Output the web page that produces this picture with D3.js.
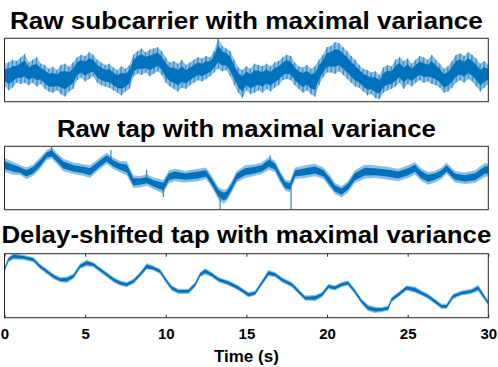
<!DOCTYPE html>
<html>
<head>
<meta charset="utf-8">
<script src="https://cdn.jsdelivr.net/npm/d3@7"></script>
<style>
    html, body { margin: 0; padding: 0; background: #ffffff; }
    svg { display: block; }
    text { font-family: "Liberation Sans", Arial, Helvetica, sans-serif; fill: #000000; }
</style>
</head>
<body>
<div id="chart"></div>
<script>
// ---- DATA (signal values in % of the box height, 0 = bottom, 100 = top) ----
const panelTitles = [
    "Raw subcarrier with maximal variance",
    "Raw tap with maximal variance",
    "Delay-shifted tap with maximal variance"
];
const xTicks = [0, 5, 10, 15, 20, 25, 30];
const xTickLabels = ["0", "5", "10", "15", "20", "25", "30"];
const xTitle = "Time (s)";

// panel 1: upper / lower edge of the noise, one pair every 0.25 s
const subcarrierStep = 0.25;
const subcarrierHigh = [
    60, 62, 66, 64, 70, 75, 62, 66, 70, 60, 58, 52, 55, 50, 58, 60, 55, 62, 70, 74,
    72, 78, 74, 66, 62, 58, 60, 54, 50, 56, 52, 58, 74, 80, 84, 78, 82, 84, 86, 80,
    70, 62, 64, 60, 66, 58, 62, 66, 70, 68, 72, 70, 80, 100, 88, 84, 80, 66, 54, 50,
    56, 52, 60, 58, 56, 60, 56, 62, 64, 70, 74, 72, 62, 56, 54, 58, 52, 56, 66, 74,
    86, 88, 94, 92, 86, 80, 72, 66, 58, 52, 50, 46, 48, 42, 54, 58, 56, 66, 70, 64,
    68, 60, 66, 72, 70, 66, 74, 66, 60, 52, 56, 64, 74, 76, 72, 78, 74, 68, 60, 64,
    58
];
const subcarrierLow = [
    25, 18, 22, 30, 28, 30, 26, 30, 24, 28, 20, 16, 14, 18, 12, 8, 16, 20, 34, 38,
    32, 36, 40, 30, 26, 24, 22, 18, 14, 10, 16, 20, 40, 44, 42, 46, 40, 44, 48, 42,
    30, 24, 20, 16, 22, 20, 26, 30, 34, 32, 36, 40, 46, 52, 48, 50, 40, 26, 14, 6,
    18, 12, 14, 18, 14, 20, 16, 22, 26, 34, 36, 34, 26, 20, 14, 18, 12, 8, 26, 38,
    46, 46, 44, 48, 42, 36, 30, 24, 22, 16, 10, 12, 6, 4, 14, 18, 20, 24, 30, 20,
    28, 24, 30, 34, 30, 32, 28, 26, 22, 14, 16, 22, 30, 34, 30, 36, 32, 24, 16, 22,
    28
];

// panel 2: centre of the trace, half width of the noise band, and the lone spikes
const rawTapTime = [
    0, 0.55, 0.96, 1.37, 1.79, 2.2, 2.62, 2.93, 3.24, 3.65,
    4.27, 4.89, 5.3, 5.92, 6.34, 6.75, 7.16, 7.58, 7.99, 8.4,
    8.82, 9.23, 9.85, 10.2, 10.6, 11.2, 12.0, 12.5, 12.85, 13.27,
    13.6, 13.78, 14.09, 14.4, 14.92, 15.54, 15.95, 16.4, 16.78, 17.09,
    17.4, 17.7, 18.02, 18.64, 19.26, 19.78, 20.19, 20.48, 20.9, 21.3,
    21.72, 22.34, 22.97, 23.79, 24.41, 25.03, 25.45, 25.86, 26.27, 26.69,
    27.1, 27.41, 27.93, 28.55, 29.17, 29.79, 30
];
const rawTapMid = [
    70.5, 65.3, 62.6, 57.4, 62.6, 73.2, 86.3, 89, 81, 70.5,
    65.3, 62.6, 60, 73.2, 81, 73.2, 68, 65.3, 44.2, 44.2,
    46.8, 41.6, 36.3, 52.1, 54.7, 52.1, 54.7, 57.4, 44.2, 25.8,
    20.5, 23.2, 36.3, 52.1, 60, 62.6, 65.3, 73.2, 68, 52.1,
    39, 36.3, 57.4, 60, 62.6, 57.4, 44.2, 33.7, 28.4, 36.3,
    52.1, 60, 60, 57.4, 54.7, 60, 65.3, 54.7, 49.5, 52.1,
    57.4, 65.3, 52.1, 49.5, 52.1, 62.6, 62.6
];
const rawTapSpread = [
    11, 10, 8, 9, 9, 9, 8, 9, 9, 10,
    9, 9, 10, 9, 9, 9, 9, 11, 10, 9,
    9, 9, 11, 10, 10, 9, 10, 9, 9, 10,
    11, 10, 9, 9, 10, 9, 9, 10, 9, 9,
    9, 9, 9, 10, 10, 9, 10, 9, 9, 9,
    10, 11, 10, 10, 10, 10, 10, 10, 10, 9,
    9, 9, 9, 9, 10, 11, 10
];
const rawTapSpikeTime = [2.93, 6.6, 8.82, 9.85, 13.37, 16.47, 17.77];
const rawTapSpikeFrom = [89, 78, 47, 36, 18, 72, 35];
const rawTapSpikeTo = [99.5, 94, 63, 20, 0.5, 86, 0];

// panel 3: centre of the trace and half width of the noise band
const shiftedTapTime = [
    0, 0.24, 0.55, 1.17, 1.79, 2.2, 2.62, 3.03, 3.44, 3.86,
    4.27, 4.68, 5.1, 5.51, 5.92, 6.34, 6.75, 7.16, 7.58, 7.99,
    8.4, 8.82, 9.23, 9.64, 10.06, 10.37, 10.78, 11.4, 11.82, 12.13,
    12.44, 12.85, 13.27, 13.89, 14.51, 15.13, 15.54, 15.95, 16.37, 16.78,
    17.19, 17.81, 18.23, 18.64, 19.26, 19.68, 20.09, 20.48, 20.9, 21.3,
    21.72, 22.14, 22.55, 22.97, 23.38, 23.79, 24.0, 24.41, 24.93, 25.45,
    25.86, 26.27, 26.69, 27.1, 27.41, 27.82, 28.34, 28.96, 29.37, 29.79,
    30
];
const shiftedTapMid = [
    75, 90.6, 95.8, 94.3, 90.6, 80.2, 72.4, 64.6, 59.4, 59.4,
    64.6, 80.2, 85.4, 82.8, 75, 67.2, 59.4, 54.2, 51.6, 56.8,
    67.2, 80.2, 77.6, 72.4, 56.8, 46.4, 41.1, 41.1, 51.6, 67.2,
    72.4, 67.2, 59.4, 54.2, 46.4, 35.9, 38.5, 54.2, 69.8, 67.2,
    59.4, 51.6, 41.1, 30.7, 30.7, 35.9, 49, 46.4, 51.6, 54.2,
    41.1, 25.5, 15.1, 12.5, 12.5, 15.1, 28.1, 35.9, 46.4, 43.8,
    38.5, 33.3, 25.5, 17.7, 17.7, 33.3, 38.5, 41.1, 46.4, 30.7,
    22.9
];
const shiftedTapSpread = [
    4, 4, 5, 4, 4, 4, 4, 4, 4, 5,
    4, 4, 5, 4, 4, 4, 4, 4, 4, 4,
    4, 5, 4, 4, 4, 4, 4, 4, 4, 4,
    5, 4, 4, 4, 4, 4, 4, 4, 5, 4,
    4, 4, 4, 4, 5, 4, 4, 4, 4, 4,
    4, 4, 5, 5, 4, 4, 4, 4, 4, 5,
    4, 4, 4, 4, 4, 4, 4, 4, 5, 4,
    4
];


// ---- LAYOUT ----
const width = 498;
const height = 367;
const lineColor = "#0072BD";
const axisColor = "#262626";
const panels = [
    { top: 38.3, bottom: 101.7, titleY: 29.3, titleWidth: 473 },
    { top: 146.3, bottom: 209.7, titleY: 137, titleWidth: 379 },
    { top: 253.7, bottom: 317.7, titleY: 243, titleWidth: 490 }
];

const svg = d3.select("#chart")
    .append("svg")
    .attr("width", width)
    .attr("height", height);

const xScale = d3.scaleLinear()
    .domain([0, 30])
    .range([4.5, 488.3]);

// one y scale per panel, each box is 0..100
const yScales = panels.map(p => d3.scaleLinear().domain([0, 100]).range([p.bottom, p.top]));


// SET UP EACH PANEL (clip, title)
const groups = panels.map((p, i) => {
    svg.append("clipPath")
        .attr("id", `clip${i}`)
        .append("rect")
        .attr("x", xScale(0))
        .attr("y", p.top)
        .attr("width", xScale(30) - xScale(0))
        .attr("height", p.bottom - p.top);

    // the titles are set wide in the original, stretch to the measured width
    svg.append("text")
        .attr("x", Math.min((xScale(0) + xScale(30)) / 2, width - 3 - p.titleWidth / 2))
        .attr("y", p.titleY)
        .attr("text-anchor", "middle")
        .attr("font-size", 23)
        .attr("font-weight", "bold")
        .attr("textLength", p.titleWidth)
        .attr("lengthAdjust", "spacingAndGlyphs")
        .text(panelTitles[i]);

    return svg.append("g").attr("clip-path", `url(#clip${i})`);
});


// BAND: light outer envelope plus a dense core
function drawBand(g, idx, xAt, lowAt, highAt, coreShare) {
    g.append("path")
        .datum(idx)
        .attr("fill", lineColor)
        .attr("fill-opacity", 0.45)
        .attr("d", d3.area()
            .x(xAt)
            .y0(lowAt)
            .y1(highAt));
    g.append("path")
        .datum(idx)
        .attr("fill", lineColor)
        .attr("d", d3.area()
            .x(xAt)
            .y0(i => { const a = lowAt(i), b = highAt(i); return (a + b) / 2 + (a - b) * coreShare / 2; })
            .y1(i => { const a = lowAt(i), b = highAt(i); return (a + b) / 2 - (a - b) * coreShare / 2; }));
}


// PANEL 1 - noisy subcarrier
const y1 = yScales[0];
const subIdx = d3.range(subcarrierHigh.length);
drawBand(groups[0], subIdx,
    i => xScale(i * subcarrierStep),
    i => y1(subcarrierLow[i]),
    i => y1(subcarrierHigh[i]),
    0.55);

// saw between the edges for the noise texture
const sawPoints = [];
subIdx.forEach(i => {
    sawPoints.push([i * subcarrierStep, subcarrierHigh[i]]);
    sawPoints.push([i * subcarrierStep, subcarrierLow[i]]);
});
groups[0].append("path")
    .datum(sawPoints)
    .attr("fill", "none")
    .attr("stroke", lineColor)
    .attr("stroke-opacity", 0.8)
    .attr("stroke-width", 0.6)
    .attr("d", d3.line()
        .x(d => xScale(d[0]))
        .y(d => y1(d[1])));


// PANELS 2 AND 3
[[rawTapTime, rawTapMid, rawTapSpread], [shiftedTapTime, shiftedTapMid, shiftedTapSpread]]
    .forEach(([time, mid, spread], k) => {
        const y = yScales[k + 1];
        drawBand(groups[k + 1], d3.range(time.length),
            i => xScale(time[i]),
            i => y(mid[i] - spread[i]),
            i => y(mid[i] + spread[i]),
            0.55);
    });

// lone spikes of the raw tap
groups[1].selectAll(".spike")
    .data(rawTapSpikeTime)
    .enter()
    .append("line")
    .attr("class", "spike")
    .attr("x1", t => xScale(t))
    .attr("x2", t => xScale(t))
    .attr("y1", (t, i) => yScales[1](rawTapSpikeFrom[i]))
    .attr("y2", (t, i) => yScales[1](rawTapSpikeTo[i]))
    .attr("stroke", lineColor)
    .attr("stroke-width", 1);


// BOXES
panels.forEach(p => {
    svg.append("rect")
        .attr("x", xScale(0))
        .attr("y", p.top)
        .attr("width", xScale(30) - xScale(0))
        .attr("height", p.bottom - p.top)
        .attr("fill", "none")
        .attr("stroke", axisColor)
        .attr("stroke-width", 1);
});


// X AXIS ON THE LAST PANEL (ticks inside, top and bottom)
const last = panels[2];
const xAxis = svg.append("g")
    .attr("transform", `translate(0, ${last.bottom})`)
    .call(d3.axisBottom(xScale)
        .tickValues(xTicks)
        .tickFormat((d, i) => xTickLabels[i])
        .tickSizeInner(-3)
        .tickSizeOuter(0)
        .tickPadding(11));
xAxis.select(".domain").remove();
xAxis.selectAll("line").attr("stroke", axisColor);
xAxis.selectAll("text")
    .attr("font-size", 15)
    .attr("font-weight", "bold")
    .attr("font-family", "Liberation Sans, Arial, sans-serif")
    .attr("fill", "#000");

const xAxisTop = svg.append("g")
    .attr("transform", `translate(0, ${last.top})`)
    .call(d3.axisTop(xScale)
        .tickValues(xTicks)
        .tickFormat("")
        .tickSizeInner(-3)
        .tickSizeOuter(0));
xAxisTop.select(".domain").remove();
xAxisTop.selectAll("line").attr("stroke", axisColor);

// x title
svg.append("text")
    .attr("x", (xScale(0) + xScale(30)) / 2)
    .attr("y", 361.5)
    .attr("text-anchor", "middle")
    .attr("font-size", 17)
    .attr("font-weight", "bold")
    .text(xTitle);
</script>
</body>
</html>
